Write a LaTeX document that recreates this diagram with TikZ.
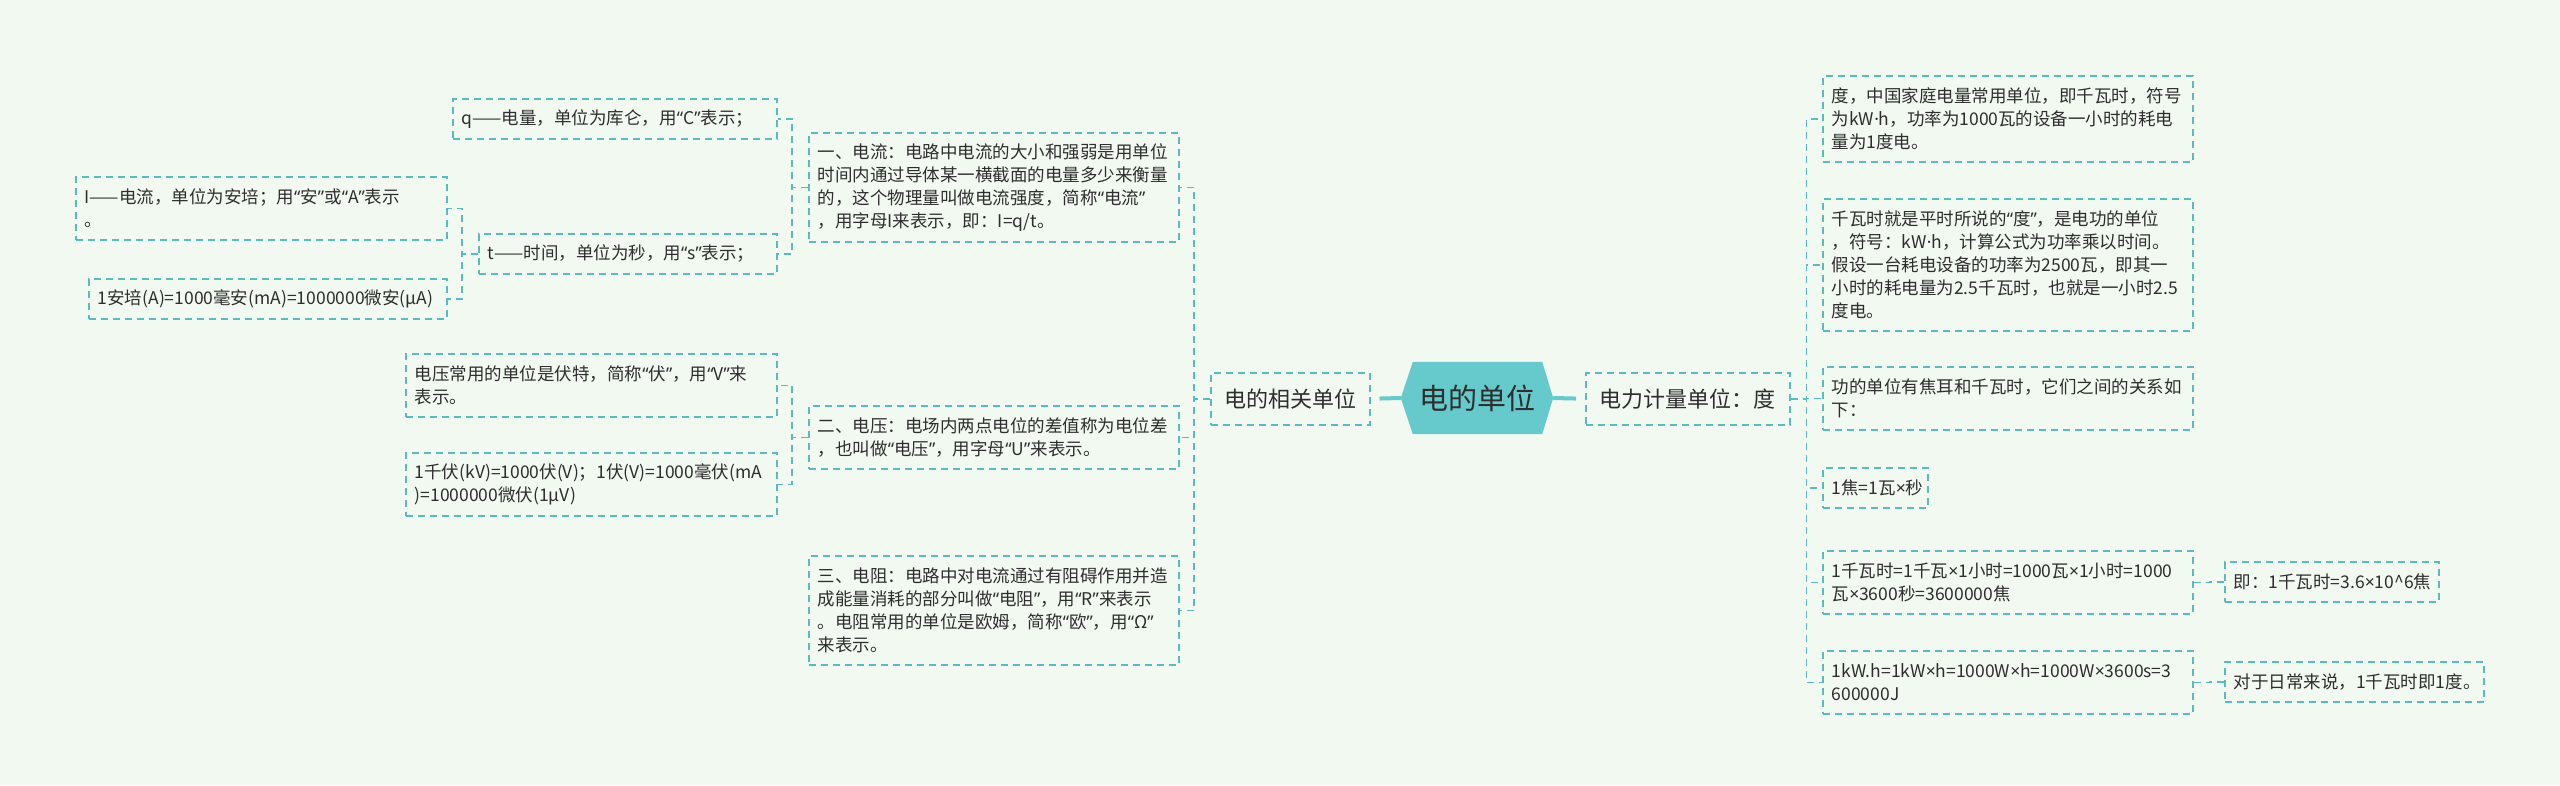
\documentclass[tikz,border=0pt]{standalone}
\usepackage{fontspec}
\setmainfont{Noto Sans CJK SC}
\newfontfamily\qf{Noto Sans}
\newcommand\oq{{\qf “}}
\newcommand\cq{{\qf ”}}
\newcommand\tm{{\qf ×}}
\newcommand\md{{\qf ·}}
\usetikzlibrary{backgrounds}
\definecolor{bgc}{HTML}{F1F9F0}
\definecolor{tl}{HTML}{5BBAC0}
\definecolor{hexc}{HTML}{66CACD}
\definecolor{txt}{HTML}{2E2E2E}
\begin{document}
\begin{tikzpicture}[x=1pt,y=-1pt,
  box/.style={draw=tl, line width=1.5pt, dash pattern=on 7pt off 5pt, text=txt,
    font=\fontsize{17.5}{23}\selectfont, align=left, inner xsep=9pt, inner ysep=0pt,
    anchor=north west},
  l1/.style={box, minimum height=40pt},
  l2/.style={box, minimum height=63pt},
  l3/.style={box, minimum height=86pt},
  l4/.style={box, minimum height=109pt},
  l5/.style={box, minimum height=132pt},
  mainbox/.style={draw=tl, line width=1.5pt, dash pattern=on 7pt off 5pt, text=txt,
    font=\fontsize{22}{26}\selectfont, anchor=north west, inner sep=0pt, minimum height=52pt},
  conn/.style={draw=tl, line width=1.5pt, dash pattern=on 7pt off 5pt},
  solidc/.style={draw=hexc, line width=4pt}]
\useasboundingbox (0,0) rectangle (2560,785);

% root
\node[inner sep=0pt, minimum width=152pt, minimum height=72pt, text=txt,
  font=\fontsize{29}{32}\selectfont] (root) at (1477,398) {电的单位};

% first level
\node[mainbox, minimum width=159pt] (L1) at (1210,372) {电的相关单位};
\node[mainbox, minimum width=204pt] (R1) at (1585,372) {电力计量单位：度};

% left branch
\node[l4, text width=352pt] (a1) at (808,132) {一、电流：电路中电流的大小和强弱是用单位\\时间内通过导体某一横截面的电量多少来衡量\\的，这个物理量叫做电流强度，简称\oq 电流\cq\\，用字母I来表示，即：I=q/t。};
\node[l2, text width=352pt] (a2) at (808,405) {二、电压：电场内两点电位的差值称为电位差\\，也叫做\oq 电压\cq，用字母\oq U\cq 来表示。};
\node[l4, text width=352pt] (a3) at (808,555) {三、电阻：电路中对电流通过有阻碍作用并造\\成能量消耗的部分叫做\oq 电阻\cq，用\oq R\cq 来表示\\。电阻常用的单位是欧姆，简称\oq 欧\cq，用\oq Ω\cq\\来表示。};

\node[l1, text width=306pt] (q) at (452,98) {q——电量，单位为库仑，用\oq C\cq 表示；};
\node[l1, text width=280pt] (t) at (478,233) {t——时间，单位为秒，用\oq s\cq 表示；};
\node[l2, text width=353pt] (I) at (75,176) {I——电流，单位为安培；用\oq 安\cq 或\oq A\cq 表示\\。};
\node[l1, text width=340pt] (amp) at (88,278) {1安培(A)=1000毫安(mA)=1000000微安(μA)};

\node[l2, text width=353pt] (v1) at (405,353) {电压常用的单位是伏特，简称\oq 伏\cq，用\oq V\cq 来\\表示。};
\node[l2, text width=353pt] (v2) at (405,452) {1千伏(kV)=1000伏(V)；1伏(V)=1000毫伏(mA\\)=1000000微伏(1μV)};

% right branch
\node[l3, text width=352pt] (d1) at (1822,75) {度，中国家庭电量常用单位，即千瓦时，符号\\为kW\md h，功率为1000瓦的设备一小时的耗电\\量为1度电。};
\node[l5, text width=352pt] (d2) at (1822,198) {千瓦时就是平时所说的\oq 度\cq，是电功的单位\\，符号：kW\md h，计算公式为功率乘以时间。\\假设一台耗电设备的功率为2500瓦，即其一\\小时的耗电量为2.5千瓦时，也就是一小时2.5\\度电。};
\node[l2, text width=352pt] (d3) at (1822,366) {功的单位有焦耳和千瓦时，它们之间的关系如\\下：};
\node[l1, text width=87pt] (d4) at (1822,467) {1焦=1瓦\tm 秒};
\node[l2, text width=352pt] (d5) at (1822,550) {1千瓦时=1千瓦\tm 1小时=1000瓦\tm 1小时=1000\\瓦\tm 3600秒=3600000焦};
\node[l2, text width=352pt] (d6) at (1822,650) {1kW.h=1kW\tm h=1000W\tm h=1000W\tm 3600s=3\\600000J};
\node[l1, text width=196pt] (e5) at (2224,561) {即：1千瓦时=3.6\tm 10\textasciicircum 6焦};
\node[l1, text width=241pt] (e6) at (2224,661) {对于日常来说，1千瓦时即1度。};

% connectors
\draw[solidc, shorten <=9pt] (L1.east) -- (root.west);
\draw[solidc, shorten <=9pt] (R1.west) -- (root.east);

\draw[conn] (L1.west) -- ++(-16,0) |- (a1.east);
\draw[conn] (L1.west) -- ++(-16,0) |- (a2.east);
\draw[conn] (L1.west) -- ++(-16,0) |- (a3.east);
\draw[conn] (a1.west) -- ++(-16,0) |- (q.east);
\draw[conn] (a1.west) -- ++(-16,0) |- (t.east);
\draw[conn] (t.west) -- ++(-16,0) |- (I.east);
\draw[conn] (t.west) -- ++(-16,0) |- (amp.east);
\draw[conn] (a2.west) -- ++(-16,0) |- (v1.east);
\draw[conn] (a2.west) -- ++(-16,0) |- (v2.east);

\draw[conn] (R1.east) -- ++(16,0) |- (d1.west);
\draw[conn] (R1.east) -- ++(16,0) |- (d2.west);
\draw[conn] (R1.east) -- ++(16,0) |- (d3.west);
\draw[conn] (R1.east) -- ++(16,0) |- (d4.west);
\draw[conn] (R1.east) -- ++(16,0) |- (d5.west);
\draw[conn] (R1.east) -- ++(16,0) |- (d6.west);
\draw[conn] (d5.east) -- ++(16,0) |- (e5.west);
\draw[conn] (d6.east) -- ++(16,0) |- (e6.west);

\begin{scope}[on background layer]
\fill[bgc] (0,0) rectangle (2560,785);
\fill[hexc] (root.west) -- ([xshift=12pt]root.north west) -- ([xshift=-11pt]root.north east)
  -- (root.east) -- ([xshift=-11pt]root.south east) -- ([xshift=12pt]root.south west) -- cycle;
\end{scope}
\end{tikzpicture}
\end{document}
